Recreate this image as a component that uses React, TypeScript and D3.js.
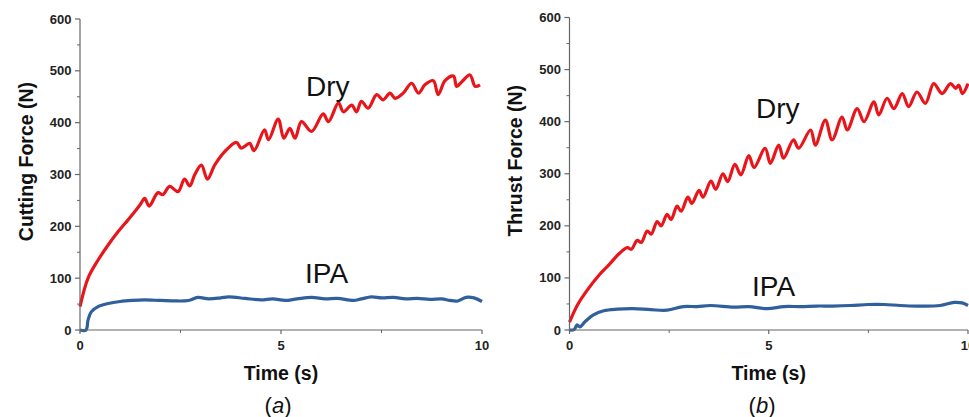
import React from "react";
import * as d3 from "d3";

// time (s), force (N)
const cuttingDry: [number, number][] = [
  [0, 45], [0.2, 100], [0.45, 135], [0.7, 164], [0.95, 190], [1.19, 212], [1.36, 228], [1.5, 242],
  [1.61, 254], [1.72, 239], [1.94, 265], [2.06, 261], [2.23, 277], [2.44, 267], [2.6, 291], [2.73, 278],
  [2.85, 299], [3.02, 318], [3.17, 291], [3.35, 318], [3.6, 344], [3.89, 362], [4.01, 351], [4.22, 360],
  [4.33, 346], [4.59, 386], [4.69, 367], [4.93, 407], [5.07, 370], [5.22, 389], [5.35, 370], [5.51, 402],
  [5.76, 383], [6.05, 417], [6.18, 402], [6.43, 438], [6.55, 421], [6.76, 434], [6.88, 421], [7.0, 441],
  [7.17, 428], [7.38, 454], [7.54, 444], [7.71, 457], [7.84, 447], [8.04, 457], [8.25, 476], [8.42, 457],
  [8.58, 473], [8.79, 481], [8.91, 454], [9.08, 481], [9.29, 490], [9.37, 470], [9.5, 479], [9.7, 492],
  [9.83, 470], [9.95, 473],
];

const cuttingIPA: [number, number][] = [
  [0, 0], [0.15, 0], [0.2, 19], [0.28, 35], [0.45, 45], [0.7, 51], [1.0, 55], [1.3, 57], [1.6, 58],
  [2.0, 57], [2.4, 56], [2.7, 57], [2.93, 63], [3.2, 60], [3.5, 62], [3.7, 64], [4.1, 61], [4.5, 58],
  [4.8, 60], [5.1, 57], [5.4, 60], [5.76, 63], [6.1, 60], [6.4, 61], [6.8, 57], [7.0, 60], [7.25, 64],
  [7.5, 62], [7.8, 63], [8.1, 60], [8.4, 61], [8.7, 59], [9.0, 60], [9.2, 57], [9.4, 56], [9.6, 63],
  [9.8, 62], [10, 55],
];

const thrustDry: [number, number][] = [
  [0, 15], [0.2, 48], [0.45, 77], [0.75, 106], [1.0, 126], [1.25, 147], [1.45, 158], [1.55, 155],
  [1.7, 172], [1.8, 168], [1.95, 190], [2.05, 184], [2.2, 208], [2.3, 200], [2.45, 222], [2.55, 212],
  [2.7, 238], [2.8, 228], [2.97, 255], [3.07, 243], [3.25, 268], [3.35, 255], [3.55, 286], [3.67, 270],
  [3.85, 300], [3.97, 285], [4.15, 318], [4.3, 298], [4.5, 335], [4.63, 312], [4.91, 349], [5.04, 320],
  [5.25, 355], [5.37, 330], [5.62, 365], [5.75, 349], [6.05, 384], [6.17, 355], [6.42, 403], [6.59, 365],
  [6.84, 409], [6.97, 384], [7.22, 425], [7.39, 400], [7.64, 438], [7.76, 413], [7.97, 445], [8.14, 425],
  [8.35, 454], [8.51, 429], [8.72, 457], [8.93, 435], [9.14, 473], [9.35, 454], [9.56, 473], [9.69, 464],
  [9.77, 470], [9.86, 454], [10, 473],
];

const thrustIPA: [number, number][] = [
  [0, 0], [0.12, 1], [0.19, 10], [0.26, 6], [0.39, 16], [0.6, 29], [0.86, 37], [1.2, 40], [1.6, 41],
  [2.04, 39], [2.45, 38], [2.86, 45], [3.2, 45], [3.53, 47], [4.12, 44], [4.5, 45], [4.96, 41],
  [5.38, 45], [5.8, 45], [6.2, 46], [6.6, 46], [7.05, 47], [7.5, 49], [7.9, 49], [8.3, 47], [8.73, 46],
  [9.3, 47], [9.65, 53], [9.85, 52], [10, 47],
];

const yTicks = [0, 100, 200, 300, 400, 500, 600];
const yMinor = [50, 150, 250, 350, 450, 550];
const xTicks = [0, 5, 10];
const xMinor = [2.5, 7.5];

const RED = "#e8161b";
const BLUE = "#2f5f9c";
const AXIS = "#666";
const FONT = "Arial, 'Liberation Sans', sans-serif";

type PanelProps = {
  x0: number;
  x1: number;
  yTop: number;
  yLabel: string;
  yLabelX: number;
  letter: string;
  letterX: number;
  dry: [number, number][];
  ipa: [number, number][];
  dryPos: [number, number];
  ipaPos: [number, number];
};

const Panel = ({ x0, x1, yTop, yLabel, yLabelX, letter, letterX, dry, ipa, dryPos, ipaPos }: PanelProps) => {
  const y0 = 330;
  const x = d3.scaleLinear().domain([0, 10]).range([x0, x1]);
  const y = d3.scaleLinear().domain([0, 600]).range([y0, yTop]);
  const line = d3
    .line<[number, number]>()
    .x((d) => x(d[0]))
    .y((d) => y(d[1]))
    .curve(d3.curveCatmullRom.alpha(0.5));
  const cx = x(5);

  return (
    <g fontFamily={FONT}>
      <path d={line(ipa) ?? ""} fill="none" stroke={BLUE} strokeWidth={3.2} strokeLinejoin="round" />
      <path d={line(dry) ?? ""} fill="none" stroke={RED} strokeWidth={3.2} strokeLinejoin="round" />

      {/* axes */}
      <line x1={x0} x2={x0} y1={y(600)} y2={y0} stroke={AXIS} strokeWidth={1.2} />
      <line x1={x0} x2={x1} y1={y0} y2={y0} stroke={AXIS} strokeWidth={1.2} />
      {yTicks.map((t) => (
        <g key={"y" + t}>
          <line x1={x0 - 5} x2={x0} y1={y(t)} y2={y(t)} stroke={AXIS} strokeWidth={1.2} />
          <text x={x0 - 8.5} y={y(t)} dy="0.35em" textAnchor="end" fontSize={13} fontWeight="bold" fill="#222">
            {t}
          </text>
        </g>
      ))}
      {yMinor.map((t) => (
        <line key={"ym" + t} x1={x0 - 3} x2={x0} y1={y(t)} y2={y(t)} stroke={AXIS} strokeWidth={1} />
      ))}
      {xTicks.map((t) => (
        <g key={"x" + t}>
          <line x1={x(t)} x2={x(t)} y1={y0} y2={y0 + 4} stroke={AXIS} strokeWidth={1.2} />
          <text x={x(t)} y={y0 + 20} textAnchor="middle" fontSize={13} fontWeight="bold" fill="#222">
            {t}
          </text>
        </g>
      ))}
      {xMinor.map((t) => (
        <line key={"xm" + t} x1={x(t)} x2={x(t)} y1={y0} y2={y0 + 3} stroke={AXIS} strokeWidth={1} />
      ))}

      <text
        transform={`translate(${yLabelX},${y(325)}) rotate(-90)`}
        textAnchor="middle"
        fontSize={19.5}
        fontWeight="bold"
        fill="#111"
      >
        {yLabel}
      </text>
      <text x={cx} y={380} textAnchor="middle" fontSize={19.5} fontWeight="bold" fill="#111">
        Time (s)
      </text>
      <text x={letterX} y={413} textAnchor="middle" fontSize={22} fill="#111">
        (<tspan fontStyle="italic">{letter}</tspan>)
      </text>

      <text x={dryPos[0]} y={dryPos[1]} fontSize={28} fill="#111">
        Dry
      </text>
      <text x={ipaPos[0]} y={ipaPos[1]} fontSize={28} fill="#111">
        IPA
      </text>
    </g>
  );
};

export default function App() {
  return (
    <svg
      width={969}
      height={417}
      style={{ position: "absolute", left: 0, top: 0, background: "#fff" }}
    >
      <rect width={969} height={417} fill="#fff" />
      <Panel
        x0={80}
        x1={482}
        yTop={19}
        yLabel="Cutting Force (N)"
        yLabelX={33}
        letter="a"
        letterX={278}
        dry={cuttingDry}
        ipa={cuttingIPA}
        dryPos={[306, 96]}
        ipaPos={[305, 283]}
      />
      <Panel
        x0={569.5}
        x1={968}
        yTop={17.5}
        yLabel="Thrust Force (N)"
        yLabelX={522}
        letter="b"
        letterX={762}
        dry={thrustDry}
        ipa={thrustIPA}
        dryPos={[756, 118]}
        ipaPos={[752, 296]}
      />
    </svg>
  );
}
